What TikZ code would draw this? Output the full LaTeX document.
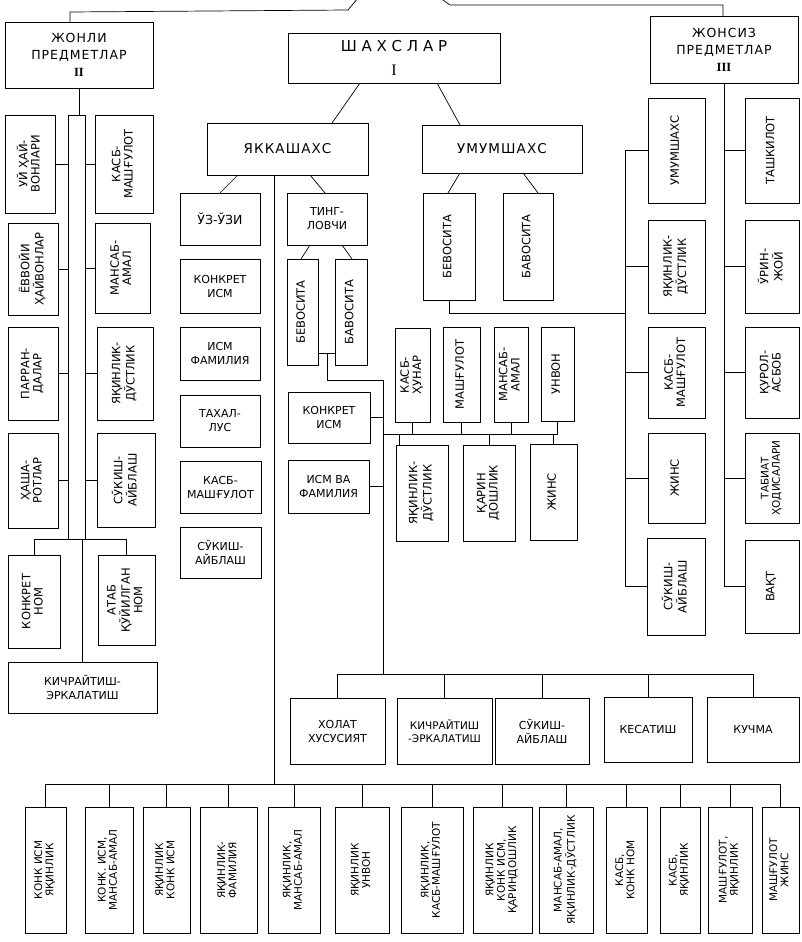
\documentclass[tikz,border=0pt]{standalone}
\usepackage{fontspec}
\usepackage{graphicx}
\setmainfont{DejaVu Sans}
\newfontfamily\numf{Liberation Serif}
\newfontfamily\spf{DejaVu Sans}[LetterSpace=8]
\usetikzlibrary{calc}
\tikzset{
 bx/.style={draw,line width=0.9pt,inner sep=0pt,outer sep=0pt,align=center,font=\fontsize{11}{14}\selectfont},
 ln/.style={line width=0.7pt},
 rot/.style={font=\fontsize{11.5}{13}\selectfont},
 low/.style={font=\fontsize{10.5}{12}\selectfont},
}
\newcommand\vtx[1]{\rotatebox{90}{\begin{tabular}{@{}c@{}}#1\end{tabular}}}
\newcommand\bx[7][]{\node[bx,#1,minimum width={(#5-#3)*1pt},minimum height={(#6-#4)*1pt}] (#2) at ({(#3+#5)/2},{(#4+#6)/2}) {#7};}
\renewcommand\arraystretch{0.95}
\begin{document}
\begin{tikzpicture}[x=1pt,y=-1pt]
\useasboundingbox (0,0) rectangle (802,942);
\fill[white] (0,0) rectangle (802,942);
% headings
\bx[font=\fontsize{12.5}{17}\spf]{n2}{5}{22}{153}{88}{ЖОНЛИ\\ПРЕДМЕТЛАР\\{\numf\bfseries II}}
\bx[font=\fontsize{15}{24}\selectfont]{n1}{288}{33}{500}{83}{Ш А Х С Л А Р\\{\numf\fontsize{16}{16}\selectfont I}}
\bx[font=\fontsize{12.5}{17}\spf]{n3}{650}{16}{798}{83}{ЖОНСИЗ\\ПРЕДМЕТЛАР\\{\numf\bfseries III}}
\bx[font=\fontsize{13.5}{16}\spf]{yk}{207}{123}{368}{175}{ЯККАШАХС}
\bx[font=\fontsize{13.5}{16}\spf]{um}{422}{125}{582}{173}{УМУМШАХС}
% left column
\bx[rot]{l1}{5}{115}{55}{213}{\vtx{УЙ ҲАЙ-\\ВОНЛАРИ}}
\bx[rot]{l2}{8}{223}{58}{315}{\vtx{ЁВВОЙИ\\ҲАЙВОНЛАР}}
\bx[rot]{l3}{8}{327}{58}{420}{\vtx{ПАРРАН-\\ДАЛАР}}
\bx[rot]{l4}{8}{433}{58}{528}{\vtx{ҲАША-\\РОТЛАР}}
\bx[rot]{r1}{95}{115}{153}{213}{\vtx{КАСБ-\\МАШҒУЛОТ}}
\bx[rot]{r2}{95}{223}{150}{313}{\vtx{МАНСАБ-\\АМАЛ}}
\bx[rot]{r3}{97}{327}{153}{420}{\vtx{ЯҚИНЛИК-\\ДЎСТЛИК}}
\bx[rot]{r4}{97}{433}{155}{527}{\vtx{СЎКИШ-\\АЙБЛАШ}}
\bx[rot]{kn}{8}{555}{60}{648}{\vtx{КОНКРЕТ\\НОМ}}
\bx[rot]{at}{98}{555}{155}{645}{\vtx{АТАБ\\ҚЎЙИЛГАН\\НОМ}}
\bx{ke1}{8}{662}{157}{713}{КИЧРАЙТИШ-\\ЭРКАЛАТИШ}
% middle-left column
\bx[font=\fontsize{12.5}{14}\selectfont]{m1}{180}{193}{260}{245}{ЎЗ-ЎЗИ}
\bx{m2}{180}{259}{260}{313}{КОНКРЕТ\\ИСМ}
\bx{m3}{180}{327}{260}{380}{ИСМ\\ФАМИЛИЯ}
\bx{m4}{180}{395}{260}{447}{ТАХАЛ-\\ЛУС}
\bx{m5}{180}{461}{261}{513}{КАСБ-\\МАШҒУЛОТ}
\bx{m6}{180}{527}{261}{578}{СЎКИШ-\\АЙБЛАШ}
\bx{tg}{287}{193}{367}{245}{ТИНГ-\\ЛОВЧИ}
\bx[rot]{bv1}{287}{259}{318}{365}{\vtx{БЕВОСИТА}}
\bx[rot]{bb1}{335}{259}{367}{365}{\vtx{БАВОСИТА}}
\bx{ki}{288}{392}{370}{443}{КОНКРЕТ\\ИСМ}
\bx{isf}{288}{460}{369}{513}{ИСМ ВА\\ФАМИЛИЯ}
% middle
\bx[rot]{bv2}{423}{193}{475}{300}{\vtx{БЕВОСИТА}}
\bx[rot]{bb2}{503}{193}{553}{300}{\vtx{БАВОСИТА}}
\bx[rot]{kh}{395}{328}{430}{422}{\vtx{КАСБ-\\ҲУНАР}}
\bx[rot]{ms}{443}{327}{480}{422}{\vtx{МАШҒУЛОТ}}
\bx[rot]{ma}{494}{327}{528}{422}{\vtx{МАНСАБ-\\АМАЛ}}
\bx[rot]{uv}{541}{327}{574}{421}{\vtx{УНВОН}}
\bx[rot]{yd}{396}{445}{448}{541}{\vtx{ЯҚИНЛИК-\\ДЎСТЛИК}}
\bx[rot]{qd}{463}{445}{515}{541}{\vtx{ҚАРИН\\ДОШЛИК}}
\bx[rot]{jn}{530}{444}{577}{540}{\vtx{ЖИНС}}
% right
\bx[rot]{a1}{648}{98}{705}{203}{\vtx{УМУМШАХС}}
\bx[rot]{a2}{648}{220}{705}{313}{\vtx{ЯҚИНЛИК-\\ДЎСТЛИК}}
\bx[rot]{a3}{648}{327}{705}{418}{\vtx{КАСБ-\\МАШҒУЛОТ}}
\bx[rot]{a4}{648}{433}{705}{523}{\vtx{ЖИНС}}
\bx[rot]{a5}{647}{538}{705}{635}{\vtx{СЎКИШ-\\АЙБЛАШ}}
\bx[rot]{b1}{745}{98}{799}{203}{\vtx{ТАШКИЛОТ}}
\bx[rot]{b2}{745}{220}{799}{313}{\vtx{ЎРИН-\\ЖОЙ}}
\bx[rot]{b3}{745}{327}{799}{418}{\vtx{ҚУРОЛ-\\АСБОБ}}
\bx[low]{b4}{745}{433}{799}{523}{\vtx{ТАБИАТ\\ҲОДИСАЛАРИ}}
\bx[rot]{b5}{745}{540}{799}{633}{\vtx{ВАҚТ}}
% row of five
\bx{c1}{290}{698}{385}{764}{ХОЛАТ\\ХУСУСИЯТ}
\bx[font=\fontsize{10.5}{13}\selectfont]{c2}{397}{698}{492}{764}{КИЧРАЙТИШ\\-ЭРКАЛАТИШ}
\bx{c3}{495}{698}{589}{764}{СЎКИШ-\\АЙБЛАШ}
\bx{c4}{604}{697}{692}{762}{КЕСАТИШ}
\bx{c5}{707}{697}{799}{762}{КУЧМА}
% bottom row
\bx[low]{d1}{25}{807}{66}{933}{\vtx{КОНК ИСМ\\ЯҚИНЛИК}}
\bx[low]{d2}{85}{807}{133}{933}{\vtx{КОНК. ИСМ,\\МАНСАБ-АМАЛ}}
\bx[low]{d3}{143}{807}{190}{933}{\vtx{ЯҚИНЛИК\\КОНК ИСМ}}
\bx[low]{d4}{200}{807}{257}{933}{\vtx{ЯҚИНЛИК-\\ФАМИЛИЯ}}
\bx[low]{d5}{268}{807}{320}{933}{\vtx{ЯҚИНЛИК,\\МАНСАБ-АМАЛ}}
\bx[low]{d6}{335}{807}{389}{933}{\vtx{ЯҚИНЛИК\\УНВОН}}
\bx[low]{d7}{401}{807}{463}{933}{\vtx{ЯҚИНЛИК,\\КАСБ-МАШҒУЛОТ}}
\bx[low]{d8}{473}{807}{532}{933}{\vtx{ЯҚИНЛИК\\КОНК ИСМ,\\ҚАРИНДОШЛИК}}
\bx[low]{d9}{539}{807}{593}{933}{\vtx{МАНСАБ-АМАЛ,\\ЯҚИНЛИК-ДЎСТЛИК}}
\bx[low]{d10}{606}{807}{647}{933}{\vtx{КАСБ,\\КОНК НОМ}}
\bx[low]{d11}{660}{807}{700}{933}{\vtx{КАСБ,\\ЯҚИНЛИК}}
\bx[low]{d12}{708}{807}{752}{933}{\vtx{МАШҒУЛОТ,\\ЯҚИНЛИК}}
\bx[low]{d13}{762}{807}{799}{933}{\vtx{МАШҒУЛОТ\\ЖИНС}}
% ---------- connectors ----------
\coordinate (t1) at (358,-2);
\coordinate (t2) at (440,-2);
\draw[ln] ($(n2.north west)+(65,0)$) -- ++(0,-10) -- (348,10) -- (t1);
\draw[ln] ($(n3.north west)+(73,0)$) -- ++(0,-11) -- (450,5) -- (t2);
\draw[ln] ($(n1.south west)+(72,0)$) -- ($(yk.north west)+(125,0)$);
\draw[ln] ($(n1.south west)+(149,0)$) -- ($(um.north west)+(38,0)$);
% left bus
\coordinate (LA) at (68,115);
\coordinate (LB) at (85,115);
\coordinate (LC) at (68,539);
\coordinate (LD) at (85,539);
\draw[ln] (n2.south) -- (n2.south |- LA);
\draw[ln] (LA) -- (LB) (LA) -- (LC) (LB) -- (LD);
\foreach \n in {l1,l2,l3,l4} \draw[ln] (\n.east) -- (\n.east -| LA);
\foreach \n in {r1,r2,r3,r4} \draw[ln] (\n.west) -- (\n.west -| LB);
\draw[ln] (kn.north |- LC) -- (at.north |- LC);
\foreach \n in {kn,at,ke1} \draw[ln] (\n.north) -- (\n.north |- LC);
% yakkashaxs
\coordinate (BB) at (0,784);
\coordinate (Y) at ($(yk.south west)+(67,0)$);
\draw[ln] ($(yk.south west)+(31,0)$) -- ($(m1.north west)+(40,0)$);
\draw[ln] (Y) -- (Y |- BB);
\draw[ln] ($(yk.south west)+(103,0)$) -- ($(tg.north west)+(38,0)$);
\draw[ln] ($(tg.south west)+(23,0)$) -- ($(bv1.north west)+(14,0)$);
\draw[ln] ($(tg.south west)+(55,0)$) -- ($(bb1.north west)+(17,0)$);
\draw[ln] ($(bv1.south east)+(0,-12)$) -- ($(bb1.south west)+(0,-12)$);
\coordinate (MV) at (383,380);
\coordinate (MB) at (383,674);
\draw[ln] ($(bv1.south east)+(9,-12)$) -- ++(0,27) -- (MV) -- (MB);
\draw[ln] (ki.east) -- (ki.east -| MV);
\draw[ln] (isf.east) -- (isf.east -| MV);
% umumshaxs
\draw[ln] ($(um.south west)+(38,0)$) -- ($(bv2.north west)+(25,0)$);
\draw[ln] ($(um.south west)+(101,0)$) -- ($(bb2.north west)+(35,0)$);
\coordinate (RX) at (625,0);
\draw[ln] (bv2.south) |- (bv2.south |- a2.south) -- (a2.south -| RX);
\coordinate (MBus) at (383,434);
\draw[ln] (MBus) -- (uv.south |- MBus);
\foreach \n in {kh,ms,ma,uv} \draw[ln] (\n.south) -- (\n.south |- MBus);
\path (yd.north west) ++(3,0) coordinate (ydt);
\draw[ln] (ydt) -- (ydt |- MBus);
\foreach \n in {qd,jn} \draw[ln] (\n.north) -- (\n.north |- MBus);
% right
\draw[ln] (a1.west -| RX) -- (a5.west -| RX);
\foreach \n in {a1,a2,a3,a4,a5} \draw[ln] (\n.west) -- (\n.west -| RX);
\draw[ln] (n3.south) -- (n3.south |- b5.west);
\foreach \n in {b1,b2,b3,b4,b5} \draw[ln] (\n.west) -- (\n.west -| n3.south);
% row of five
\draw[ln] (c1.north |- MB) -- (c5.north |- MB);
\foreach \n in {c1,c2,c3,c4,c5} \draw[ln] (\n.north) -- (\n.north |- MB);
% bottom row
\draw[ln] (d1.north |- BB) -- (d13.north |- BB);
\foreach \n in {d1,d2,d3,d4,d5,d6,d7,d8,d9,d10,d11,d12,d13} \draw[ln] (\n.north) -- (\n.north |- BB);
\end{tikzpicture}
\end{document}
